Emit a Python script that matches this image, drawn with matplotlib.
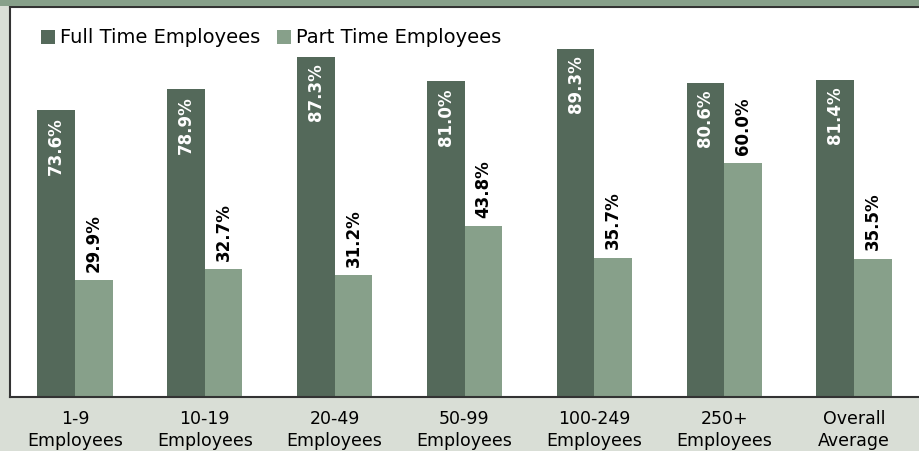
import numpy as np
import matplotlib
matplotlib.use('Agg')
import matplotlib.pyplot as plt
from matplotlib.patches import Rectangle

# data
categories = ['1-9\nEmployees', '10-19\nEmployees', '20-49\nEmployees', '50-99\nEmployees',
              '100-249\nEmployees', '250+\nEmployees', 'Overall\nAverage']
full_time = [73.6, 78.9, 87.3, 81.0, 89.3, 80.6, 81.4]
part_time = [29.9, 32.7, 31.2, 43.8, 35.7, 60.0, 35.5]

dark = '#54695a'
light = '#87a08a'
bg = '#d9ded6'

fig = plt.figure(figsize=(9.19, 4.51), dpi=100, facecolor=bg)
# green band on top
fig.patches.append(Rectangle((0, 1 - 6 / 451), 1, 6 / 451, transform=fig.transFigure,
                             facecolor=light, edgecolor='none', zorder=0))

ax = fig.add_axes([10 / 919, 54 / 451, 1 - 10 / 919, 390 / 451])
ax.set_facecolor('white')

x = np.arange(len(categories))
w = 0.29
b1 = ax.bar(x - w / 2, full_time, w, color=dark, label='Full Time Employees')
b2 = ax.bar(x + w / 2, part_time, w, color=light, label='Part Time Employees')

for i in range(len(x)):
    ax.annotate('%.1f%%' % full_time[i], (x[i] - w / 2, full_time[i]), xytext=(0, -5),
                textcoords='offset points', rotation=90, ha='center', va='top',
                color='white', fontsize=12, fontweight='bold')
    ax.annotate('%.1f%%' % part_time[i], (x[i] + w / 2, part_time[i]), xytext=(0, 6),
                textcoords='offset points', rotation=90, ha='center', va='bottom',
                color='black', fontsize=12, fontweight='bold')

ax.set_xlim(-0.5, len(categories) - 0.5)
ax.set_ylim(0, 100)
ax.set_yticks([])
ax.set_xticks(x)
ax.set_xticklabels(categories, fontsize=12.5, linespacing=1.3)
ax.tick_params(axis='x', length=0, pad=9)

for s in ['left', 'bottom', 'top']:
    ax.spines[s].set_color('#333333')
    ax.spines[s].set_linewidth(1.5)
ax.spines['right'].set_visible(False)

leg = ax.legend(loc='upper left', bbox_to_anchor=(0.034, 0.945), ncol=2, frameon=False,
                prop={'size': 14}, handlelength=0.72, handleheight=0.72,
                handletextpad=0.26, columnspacing=0.85, borderaxespad=0, borderpad=0)

fig.savefig('out.png', dpi=100, facecolor=bg)
